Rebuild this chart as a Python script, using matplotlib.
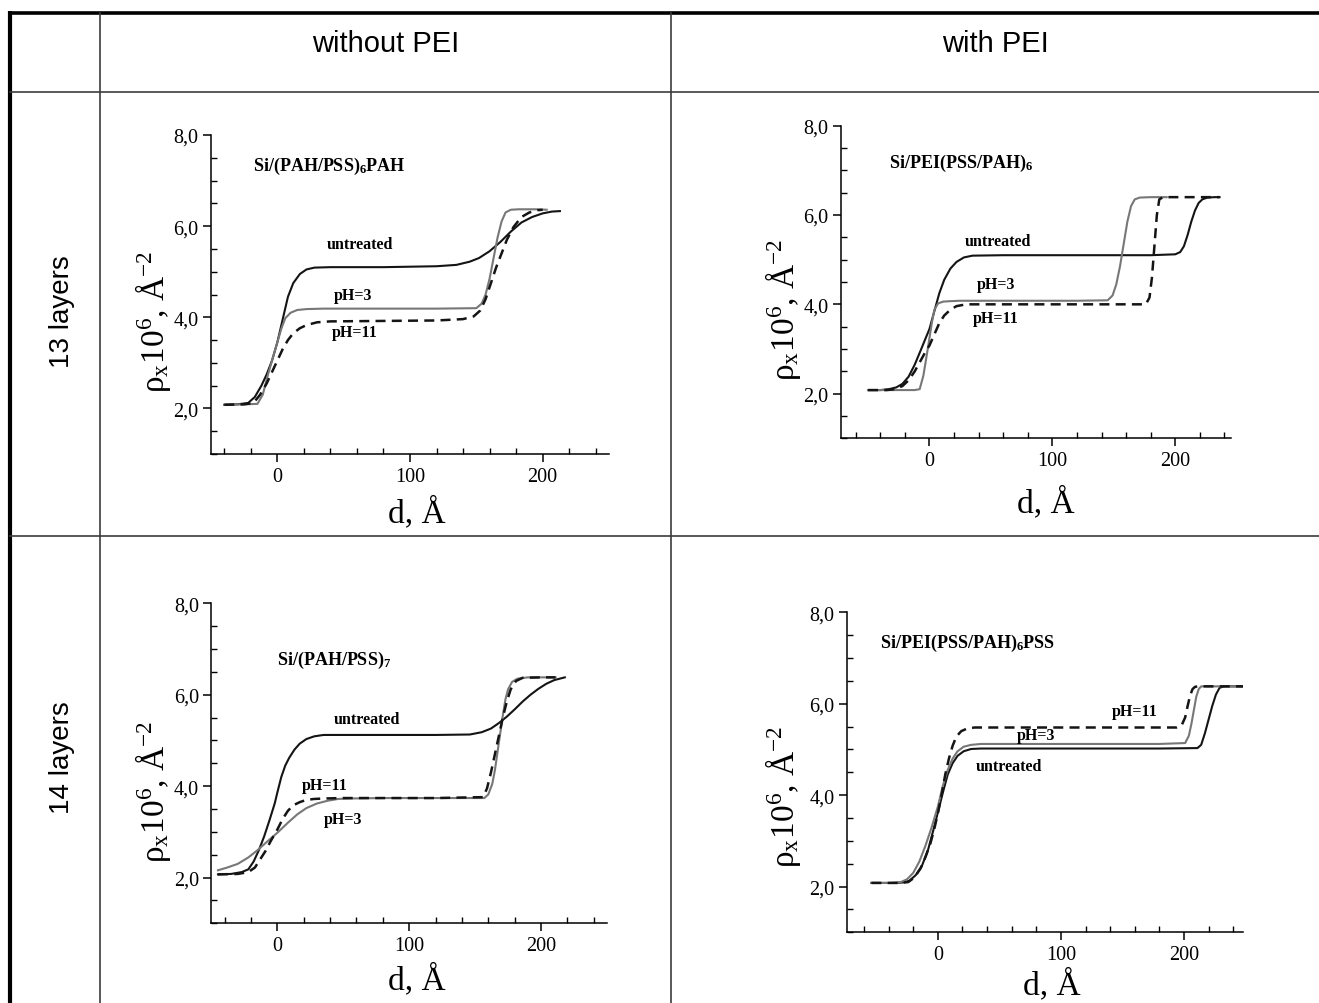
import matplotlib
matplotlib.use("Agg")
import matplotlib.pyplot as plt
from matplotlib.ticker import FixedLocator, MultipleLocator, FuncFormatter

W, H = 1319, 1004

plt.rcParams["font.family"] = "Liberation Serif"
plt.rcParams["mathtext.fontset"] = "custom"
plt.rcParams["mathtext.rm"] = "Liberation Serif"
plt.rcParams["mathtext.it"] = "Liberation Serif:italic"
plt.rcParams["mathtext.bf"] = "Liberation Serif:bold"

# 13 layers, without PEI: Si/(PAH/PSS)6PAH
A_UNT_X = [-40, -30, -22, -17, -12, -8, -4, 0, 4, 8, 12, 17, 22, 28, 40, 80, 120, 135, 145,
           152, 160, 168, 176, 184, 192, 200, 207, 213]
A_UNT_Y = [2.08, 2.09, 2.12, 2.25, 2.5, 2.75, 3.05, 3.45, 3.95, 4.45, 4.75, 4.95, 5.05, 5.09,
           5.1, 5.1, 5.12, 5.15, 5.22, 5.3, 5.45, 5.65, 5.88, 6.08, 6.2, 6.28, 6.32, 6.33]
A_PH3_X = [-40, -25, -15, -11, -7, -3, 0, 3, 6, 10, 15, 22, 35, 80, 120, 150, 154, 157, 160,
           163, 166, 169, 172, 176, 182, 195, 203]
A_PH3_Y = [2.08, 2.09, 2.1, 2.3, 2.75, 3.15, 3.45, 3.75, 3.98, 4.1, 4.16, 4.18, 4.19, 4.19,
           4.19, 4.2, 4.3, 4.5, 4.85, 5.3, 5.75, 6.1, 6.3, 6.36, 6.37, 6.37, 6.36]
A_PH11_X = [-40, -25, -18, -13, -8, -4, 0, 4, 8, 12, 17, 22, 30, 40, 80, 120, 140, 148, 153,
            157, 161, 165, 169, 173, 178, 184, 190, 196, 200]
A_PH11_Y = [2.08, 2.09, 2.12, 2.3, 2.55, 2.8, 3.05, 3.3, 3.5, 3.65, 3.76, 3.83, 3.89, 3.91,
            3.92, 3.93, 3.96, 4.02, 4.15, 4.4, 4.75, 5.1, 5.4, 5.7, 5.98, 6.2, 6.3, 6.35, 6.36]

# 13 layers, with PEI: Si/PEI(PSS/PAH)6
B_UNT_X = [-50, -40, -33, -27, -22, -17, -12, -7, -3, 0, 4, 8, 12, 17, 22, 28, 35, 60, 120,
           180, 200, 204, 207, 210, 213, 216, 219, 222, 226, 232, 236]
B_UNT_Y = [2.08, 2.08, 2.1, 2.14, 2.22, 2.38, 2.65, 2.98, 3.25, 3.45, 3.85, 4.25, 4.55, 4.8,
           4.95, 5.05, 5.09, 5.1, 5.1, 5.1, 5.12, 5.17, 5.3, 5.55, 5.85, 6.1, 6.27, 6.35, 6.39,
           6.4, 6.4]
B_PH3_X = [-50, -30, -12, -8, -5, -2, 0, 2, 4, 7, 11, 16, 25, 60, 120, 145, 149, 152, 155,
           158, 161, 164, 167, 171, 180, 193]
B_PH3_Y = [2.08, 2.08, 2.08, 2.1, 2.4, 2.9, 3.25, 3.6, 3.88, 4.02, 4.06, 4.07, 4.08, 4.08,
           4.08, 4.09, 4.2, 4.45, 4.85, 5.35, 5.85, 6.2, 6.35, 6.39, 6.4, 6.4]
B_PH11_X = [-50, -35, -28, -22, -17, -12, -7, -3, 0, 4, 8, 12, 17, 22, 30, 60, 120, 176, 179,
            181, 183, 185, 187, 190, 200, 220, 236]
B_PH11_Y = [2.08, 2.08, 2.1, 2.17, 2.3, 2.5, 2.75, 2.95, 3.08, 3.33, 3.58, 3.75, 3.88, 3.96,
            4.0, 4.0, 4.0, 4.0, 4.15, 4.6, 5.3, 6.0, 6.35, 6.4, 6.4, 6.4, 6.4]

# 14 layers, without PEI: Si/(PAH/PSS)7
C_UNT_X = [-45, -35, -27, -22, -18, -14, -10, -6, -2, 0, 3, 6, 9, 13, 17, 22, 28, 35, 60, 120,
           146, 155, 162, 168, 174, 180, 186, 192, 198, 204, 210, 218]
C_UNT_Y = [2.07, 2.08, 2.12, 2.18, 2.35, 2.6, 2.9, 3.25, 3.62, 3.86, 4.2, 4.45, 4.62, 4.8,
           4.93, 5.03, 5.09, 5.12, 5.12, 5.12, 5.13, 5.18, 5.26, 5.38, 5.52, 5.68, 5.85, 6.0,
           6.13, 6.24, 6.32, 6.38]
C_PH3_X = [-45, -38, -30, -22, -15, -8, 0, 8, 15, 22, 30, 38, 46, 55, 80, 120, 157, 160, 163,
           165, 167, 169, 171, 173, 175, 178, 182, 190, 211]
C_PH3_Y = [2.16, 2.22, 2.3, 2.44, 2.6, 2.78, 2.98, 3.2, 3.38, 3.52, 3.62, 3.68, 3.72, 3.73,
           3.74, 3.74, 3.74, 3.82, 4.05, 4.35, 4.75, 5.15, 5.55, 5.9, 6.12, 6.28, 6.35, 6.38,
           6.38]
C_PH11_X = [-45, -30, -22, -17, -13, -9, -5, 0, 4, 8, 12, 17, 22, 28, 35, 50, 80, 120, 156,
            159, 162, 165, 168, 171, 174, 177, 181, 186, 200, 211]
C_PH11_Y = [2.07, 2.08, 2.12, 2.22, 2.4, 2.58, 2.8, 3.05, 3.28, 3.46, 3.58, 3.65, 3.7, 3.72,
            3.73, 3.74, 3.74, 3.74, 3.76, 3.95, 4.3, 4.7, 5.1, 5.5, 5.85, 6.12, 6.3, 6.37,
            6.38, 6.38]

# 14 layers, with PEI: Si/PEI(PSS/PAH)6PSS
D_UNT_X = [-54, -35, -28, -23, -18, -13, -8, -4, 0, 4, 8, 12, 16, 21, 27, 35, 60, 120, 180,
           211, 214, 217, 220, 223, 226, 229, 233, 240, 248]
D_UNT_Y = [2.08, 2.08, 2.09, 2.13, 2.25, 2.45, 2.8, 3.2, 3.62, 4.05, 4.45, 4.7, 4.86, 4.96,
           5.01, 5.02, 5.02, 5.02, 5.02, 5.03, 5.1, 5.35, 5.65, 5.95, 6.2, 6.35, 6.38, 6.38,
           6.38]
D_PH3_X = [-54, -38, -30, -25, -20, -15, -10, -5, 0, 4, 8, 12, 16, 21, 27, 35, 60, 120, 180,
           201, 204, 206, 208, 210, 212, 214, 220, 248]
D_PH3_Y = [2.08, 2.08, 2.1, 2.16, 2.3, 2.55, 2.9, 3.3, 3.75, 4.2, 4.55, 4.8, 4.96, 5.06, 5.1,
           5.12, 5.12, 5.12, 5.12, 5.14, 5.3, 5.55, 5.85, 6.15, 6.32, 6.38, 6.38, 6.38]
D_PH11_X = [-54, -30, -24, -19, -14, -10, -6, -3, 0, 3, 6, 9, 12, 15, 19, 24, 30, 60, 120,
            194, 198, 201, 203, 205, 207, 209, 212, 220, 248]
D_PH11_Y = [2.08, 2.08, 2.1, 2.2, 2.4, 2.65, 2.95, 3.25, 3.6, 4.0, 4.45, 4.8, 5.08, 5.28,
            5.4, 5.46, 5.48, 5.48, 5.48, 5.48, 5.52, 5.7, 5.95, 6.18, 6.32, 6.37, 6.38, 6.38,
            6.38]

COL_HEADERS = ["without PEI", "with PEI"]
ROW_HEADERS = ["13 layers", "14 layers"]
Y_TICKS = [2, 4, 6, 8]
X_TICKS = [0, 100, 200]

BLACK = "#141414"
GRAY = "#777777"

# rect in pixels: left, top, right, bottom
PANELS = [
    dict(rect=(211, 136, 609, 455), xlim=(-50, 250),
         curves=[(A_UNT_X, A_UNT_Y), (A_PH3_X, A_PH3_Y), (A_PH11_X, A_PH11_Y)],
         title=r"Si/(PAH/PSS)$_\mathbf{6}$PAH", title_xy=(-18, 7.34),
         notes=[("untreated", 62, 5.6), ("pH=3", 57, 4.5), ("pH=11", 58, 3.68)],
         xlab=(0.517, -0.182), ylab=(-0.146, 0.418)),
    dict(rect=(841, 126.7, 1230.6, 439.3), xlim=(-72, 245),
         curves=[(B_UNT_X, B_UNT_Y), (B_PH3_X, B_PH3_Y), (B_PH11_X, B_PH11_Y)],
         title=r"Si/PEI(PSS/PAH)$_\mathbf{6}$", title_xy=(-33, 7.18),
         notes=[("untreated", 56, 5.42), ("pH=3", 54, 4.45), ("pH=11", 54, 3.7)],
         xlab=(0.525, -0.204), ylab=(-0.15, 0.414)),
    dict(rect=(211.4, 604.3, 607, 924.3), xlim=(-50, 250),
         curves=[(C_UNT_X, C_UNT_Y), (C_PH3_X, C_PH3_Y), (C_PH11_X, C_PH11_Y)],
         title=r"Si/(PAH/PSS)$_\mathbf{7}$", title_xy=(0, 6.78),
         notes=[("untreated", 68, 5.47), ("pH=11", 36, 4.02), ("pH=3", 50, 3.28)],
         xlab=(0.519, -0.174), ylab=(-0.148, 0.414)),
    dict(rect=(846.8, 613.3, 1243, 933.3), xlim=(-74, 248),
         curves=[(D_UNT_X, D_UNT_Y), (D_PH3_X, D_PH3_Y), (D_PH11_X, D_PH11_Y)],
         title=r"Si/PEI(PSS/PAH)$_\mathbf{6}$PSS", title_xy=(-47, 7.34),
         notes=[("pH=11", 160, 5.85), ("pH=3", 80, 5.32), ("untreated", 58, 4.63)],
         xlab=(0.517, -0.162), ylab=(-0.162, 0.427)),
]


def comma(v, _pos):
    return f"{v:.1f}".replace(".", ",")


fig = plt.figure(figsize=(W / 100, H / 100), dpi=100)

# table grid drawn in pixel space
bg = fig.add_axes([0, 0, 1, 1])
bg.set_xlim(0, W)
bg.set_ylim(H, 0)
bg.axis("off")
bg.plot([8, W], [14, 14], color="black", lw=2.6, solid_capstyle="butt")
bg.plot([10, 10], [12, H], color="black", lw=3.0, solid_capstyle="butt")
for x in (100, 671):
    bg.plot([x, x], [14, H], color="#3c3c3c", lw=1.2)
for y in (93, 537):
    bg.plot([10, W], [y, y], color="#3c3c3c", lw=1.2)
for txt, cx in zip(COL_HEADERS, (385.5, 995)):
    bg.text(cx, 52, txt, family="Liberation Sans", fontsize=21, ha="center", va="baseline")
for txt, cy in zip(ROW_HEADERS, (312, 758)):
    bg.text(62, cy, txt, family="Liberation Sans", fontsize=20, rotation=90,
            ha="center", va="center")

for p in PANELS:
    l, t, r, b = p["rect"]
    ax = fig.add_axes([l / W, 1 - b / H, (r - l) / W, (b - t) / H])
    ax.patch.set_alpha(0)
    (ux, uy), (gx, gy), (dx, dy) = p["curves"]
    ax.plot(ux, uy, color=BLACK, lw=1.5)
    ax.plot(gx, gy, color=GRAY, lw=1.5)
    ax.plot(dx, dy, color=BLACK, lw=1.8, linestyle=(0, (4, 2.5)))
    ax.set_xlim(*p["xlim"])
    ax.set_ylim(1, 8)
    for side in ("top", "right"):
        ax.spines[side].set_visible(False)
    for side in ("left", "bottom"):
        ax.spines[side].set_linewidth(1.1)
    ax.xaxis.set_major_locator(FixedLocator(X_TICKS))
    ax.xaxis.set_minor_locator(MultipleLocator(20))
    ax.yaxis.set_major_locator(FixedLocator(Y_TICKS))
    ax.yaxis.set_minor_locator(MultipleLocator(0.5))
    ax.yaxis.set_major_formatter(FuncFormatter(comma))
    ax.tick_params(which="major", direction="out", length=6, width=1.1,
                   labelsize=14.5, pad=3)
    ax.tick_params(which="minor", direction="in", length=4, width=1.0)

    ax.set_xlabel("d, Å", fontsize=24, va="center")
    ax.xaxis.set_label_coords(*p["xlab"])
    ax.set_ylabel(r"ρ$_\mathrm{x}$10$^{6}$, Å$^{-2}$", fontsize=24, va="center")
    ax.yaxis.set_label_coords(*p["ylab"])

    ax.text(*p["title_xy"], p["title"], fontsize=13, fontweight="bold",
            ha="left", va="center")
    for txt, x, y in p["notes"]:
        ax.text(x, y, txt, fontsize=11.5, fontweight="bold", ha="center", va="center")

fig.savefig("out.png", dpi=100)
